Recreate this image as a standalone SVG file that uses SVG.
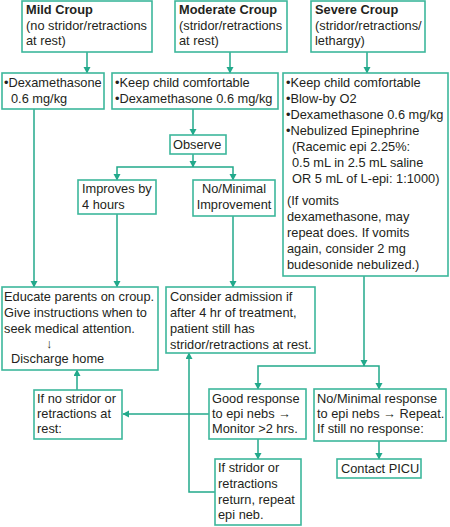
<svg xmlns="http://www.w3.org/2000/svg" width="450" height="527" viewBox="0 0 450 527">
<defs>
<marker id="ah" markerUnits="userSpaceOnUse" markerWidth="8" markerHeight="8" refX="6" refY="3.5" orient="auto">
<path d="M0,0 L6.5,3.5 L0,7 z" fill="#22a98b"/>
</marker>
<style>
rect.b{fill:#fff;stroke:#3db79c;stroke-width:1.6}
text{font-family:"Liberation Sans",Arial,sans-serif;font-size:12.8px;fill:#231f20}
.h{font-weight:bold}
.c path,.c line,.c polyline{fill:none;stroke:#22a98b;stroke-width:1.5}
.a{marker-end:url(#ah)}
</style>
</defs>
<rect width="450" height="527" fill="#fff"/>
<g class="c" id="connectors">
<line class="a" x1="87" y1="52" x2="87" y2="73"/>
<line class="a" x1="230" y1="52" x2="230" y2="73"/>
<line class="a" x1="367" y1="52" x2="367" y2="73"/>
<line class="a" x1="34" y1="109" x2="34" y2="287"/>
<line class="a" x1="193" y1="109" x2="193" y2="135"/>
<line class="a" x1="193" y1="154" x2="193" y2="167"/>
<polyline class="a" points="193,167 117,167 117,180"/>
<polyline class="a" points="193,167 233,167 233,180"/>
<line class="a" x1="117" y1="214" x2="117" y2="287"/>
<line class="a" x1="233" y1="216" x2="233" y2="287"/>
<line class="a" x1="364" y1="276" x2="364" y2="366"/>
<polyline class="a" points="364,366 258,366 258,389"/>
<polyline class="a" points="364,366 379,366 379,389"/>
<line class="a" x1="209" y1="414" x2="123" y2="414"/>
<line class="a" x1="77" y1="390" x2="77" y2="370"/>
<line class="a" x1="258" y1="439" x2="258" y2="459"/>
<line class="a" x1="379" y1="441" x2="379" y2="459"/>
<polyline class="a" points="215,492 189,492 189,353"/>
</g>
<g id="mild">
<rect class="b" x="22" y="1" width="130" height="51"/>
<text class="h" x="26" y="14">Mild Croup</text>
<text x="26" y="30">(no stridor/retractions</text>
<text x="26" y="45">at rest)</text>
</g>
<g id="moderate">
<rect class="b" x="175" y="1" width="112" height="51"/>
<text class="h" x="179" y="14">Moderate Croup</text>
<text x="179" y="30">(stridor/retractions</text>
<text x="179" y="45">at rest)</text>
</g>
<g id="severe">
<rect class="b" x="311" y="1" width="114" height="51"/>
<text class="h" x="315" y="14">Severe Croup</text>
<text x="315" y="30">(stridor/retractions/</text>
<text x="315" y="45">lethargy)</text>
</g>
<g id="mild-tx">
<rect class="b" x="2" y="73" width="102" height="36"/>
<text x="4" y="87">•Dexamethasone</text>
<text x="11" y="103">0.6 mg/kg</text>
</g>
<g id="moderate-tx">
<rect class="b" x="112" y="73" width="166" height="36"/>
<text x="115" y="87">•Keep child comfortable</text>
<text x="115" y="103">•Dexamethasone 0.6 mg/kg</text>
</g>
<g id="severe-tx">
<rect class="b" x="283" y="73" width="165" height="203"/>
<text x="286" y="87">•Keep child comfortable</text>
<text x="286" y="103">•Blow-by O2</text>
<text x="286" y="119">•Dexamethasone 0.6 mg/kg</text>
<text x="286" y="135">•Nebulized Epinephrine</text>
<text x="292" y="151">(Racemic epi 2.25%:</text>
<text x="292" y="167">0.5 mL in 2.5 mL saline</text>
<text x="292" y="183">OR 5 mL of L-epi: 1:1000)</text>
<text x="287" y="205">(If vomits</text>
<text x="287" y="221">dexamethasone, may</text>
<text x="287" y="237">repeat does. If vomits</text>
<text x="287" y="253">again, consider 2 mg</text>
<text x="287" y="269">budesonide nebulized.)</text>
</g>
<g id="observe">
<rect class="b" x="170" y="135" width="56" height="19"/>
<text x="173" y="149">Observe</text>
</g>
<g id="improves">
<rect class="b" x="78" y="180" width="78" height="34"/>
<text x="82" y="193">Improves by</text>
<text x="82" y="209">4 hours</text>
</g>
<g id="no-improve">
<rect class="b" x="193" y="180" width="82" height="36"/>
<text x="234" y="193" text-anchor="middle">No/Minimal</text>
<text x="234" y="209" text-anchor="middle">Improvement</text>
</g>
<g id="educate">
<rect class="b" x="2" y="287" width="156" height="83"/>
<text x="4" y="301">Educate parents on croup.</text>
<text x="4" y="317">Give instructions when to</text>
<text x="4" y="333">seek medical attention.</text>
<text x="46" y="348">↓</text>
<text x="11" y="363">Discharge home</text>
</g>
<g id="consider">
<rect class="b" x="166" y="287" width="149" height="66"/>
<text x="170" y="301">Consider admission if</text>
<text x="170" y="317">after 4 hr of treatment,</text>
<text x="170" y="333">patient still has</text>
<text x="170" y="349">stridor/retractions at rest.</text>
</g>
<g id="no-stridor">
<rect class="b" x="34" y="390" width="88" height="49"/>
<text x="37" y="403">If no stridor or</text>
<text x="37" y="418">retractions at</text>
<text x="37" y="433">rest:</text>
</g>
<g id="good-response">
<rect class="b" x="209" y="389" width="97" height="50"/>
<text x="212" y="403">Good response</text>
<text x="212" y="418">to epi nebs →</text>
<text x="212" y="433">Monitor &gt;2 hrs.</text>
</g>
<g id="no-response">
<rect class="b" x="314" y="389" width="132" height="52"/>
<text x="317" y="403">No/Minimal response</text>
<text x="317" y="418">to epi nebs → Repeat.</text>
<text x="317" y="433">If still no response:</text>
</g>
<g id="stridor-return">
<rect class="b" x="215" y="459" width="86" height="66"/>
<text x="218" y="472">If stridor or</text>
<text x="218" y="488">retractions</text>
<text x="218" y="504">return, repeat</text>
<text x="218" y="519">epi neb.</text>
</g>
<g id="picu">
<rect class="b" x="337" y="459" width="84" height="19"/>
<text x="341" y="473">Contact PICU</text>
</g>
</svg>
